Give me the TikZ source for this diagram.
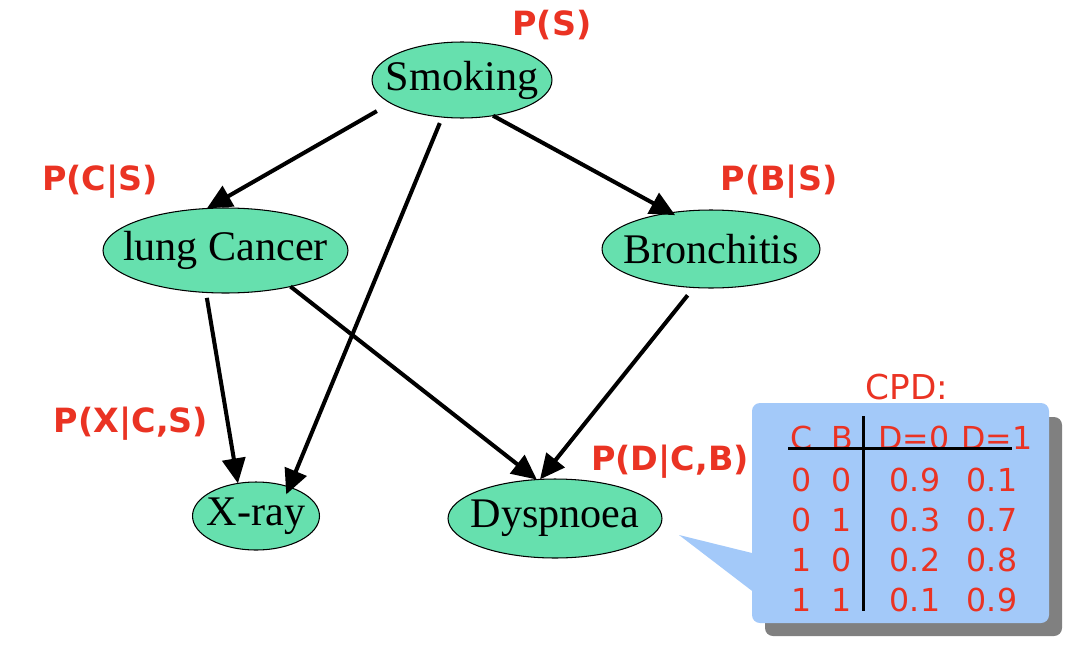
\documentclass[tikz,border=0pt]{standalone}
\usepackage{fontspec}
\setmainfont{Liberation Serif}
\newfontfamily\verdana{DejaVu Sans}
\usetikzlibrary{arrows.meta, shapes.geometric}
\definecolor{nodegreen}{RGB}{102,224,174}
\definecolor{probred}{RGB}{234,51,35}
\definecolor{cpdblue}{RGB}{163,201,249}
\definecolor{shadowgray}{RGB}{128,128,128}

\begin{document}
\begin{tikzpicture}[x=0.02cm, y=-0.02cm,
    var/.style={ellipse, draw=black, line width=0.6pt, fill=nodegreen,
      inner sep=0pt, outer sep=0pt, font=\fontsize{24}{28}\selectfont},
    prob/.style={text=probred, inner sep=0pt, font=\verdana\bfseries\fontsize{19}{22}\selectfont},
    cell/.style={text=probred, inner sep=0pt, font=\verdana\fontsize{18}{21}\selectfont},
    edge/.style={-{Triangle[length=0.5cm, width=0.46cm]}, line width=2.3pt}]
  \useasboundingbox (0,0) rectangle (1070,652);

  % Variables of the network
  \node[var, minimum width=3.6cm, minimum height=1.52cm] (smoking) at (462,80) {\makebox[0pt]{Smoking}};
  \node[var, minimum width=4.9cm, minimum height=1.7cm] (cancer) at (225.5,250.5) {\makebox[0pt]{lung Cancer}};
  \node[var, minimum width=4.36cm, minimum height=1.56cm] (bronchitis) at (711,249) {\makebox[0pt]{Bronchitis}};
  \node[var, minimum width=2.54cm, minimum height=1.36cm] (xray) at (256,516) {\makebox[0pt]{X-ray}};
  \node[var, minimum width=4.28cm, minimum height=1.58cm] (dyspnoea) at (555,518.5) {\makebox[0pt]{Dyspnoea}};

  % Probabilities
  \node[prob] (ps) at (552,25) {P(S)};
  \node[prob] (pcs) at (100,182) {P(C|S)};
  \node[prob] (pbs) at (779,182) {P(B|S)};
  \node[prob] (pxcs) at (131,424) {P(X|C,S)};
  \node[prob] (pdcb) at (670,462) {P(D|C,B)};

  % Edges
  \draw[edge, shorten <=0.32cm] (smoking.198.8) -- (cancer.114.4);
  \draw[edge, shorten <=0.13cm, shorten >=-0.16cm] (smoking.242.2) -- (xray.41.5);
  \draw[edge, shorten >=-0.1cm] (smoking.311.5) -- (bronchitis.138.4);
  \draw[edge, shorten <=0.11cm] (cancer.245.2) -- (xray.119.2);
  \draw[edge] (cancer.331.6) -- (dyspnoea.115);
  \draw[edge, shorten <=0.2cm] (bronchitis.246.5) -- (dyspnoea.111);

  % CPD callout with shadow
  \fill[shadowgray, rounded corners=0.16cm] (765,417) rectangle (1062,636);
  \fill[cpdblue] (760,555) -- (679,535) -- (760,597) -- cycle;
  \fill[cpdblue, rounded corners=0.16cm] (752,403) rectangle (1049,623);
  \node[cell, font=\verdana\fontsize{19.5}{22}\selectfont] (cpd) at (907,387) {CPD:};

  % Table
  \node[cell] (hc) at (802,438) {C};
  \node[cell] (hb) at (842,438) {B};
  \node[cell] (hdzero) at (914,438) {D=0};
  \node[cell] (hdone) at (997,438) {D=1};
  \foreach \c/\b/\dzero/\done [count=\i] in {0/0/0.9/0.1, 0/1/0.3/0.7, 1/0/0.2/0.8, 1/1/0.1/0.9} {
    \node[cell] (rc\i) at (802,440+40*\i) {\c};
    \node[cell] (rb\i) at (842,440+40*\i) {\b};
    \node[cell] (rd\i) at (915,440+40*\i) {\dzero};
    \node[cell] (re\i) at (992,440+40*\i) {\done};
  }
  \draw[line width=1.7pt] (788,448) -- (1012,448);
  \draw[line width=1.7pt] (863,416) -- (863,611);
\end{tikzpicture}
\end{document}
